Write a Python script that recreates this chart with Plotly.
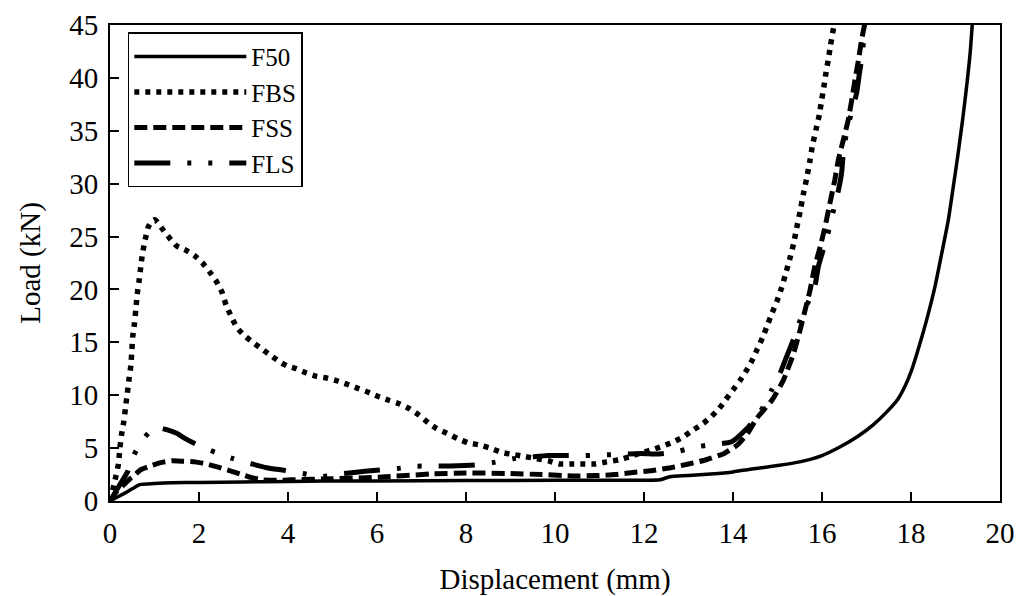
import plotly.graph_objects as go

# ---- data ----
f50_x = [0, 0.2, 0.4, 0.67, 1.0, 1.4, 2.0, 3.0, 4.0, 4.8, 6.0, 8.0, 10.0, 12.0, 12.36, 12.58, 13.0,
         13.5, 14.0, 14.38, 15.0, 15.5, 16.0, 16.4, 16.8, 17.15, 17.45, 17.7, 17.87, 18.0, 18.13, 18.25,
         18.35, 18.54, 18.69, 18.84, 18.95, 19.06, 19.16, 19.25, 19.33, 19.4]
f50_y = [0, 0.45, 0.9, 1.55, 1.65, 1.72, 1.75, 1.8, 1.85, 1.88, 1.9, 1.93, 1.95, 1.96, 2.0, 2.3, 2.4,
         2.55, 2.75, 3.0, 3.35, 3.7, 4.3, 5.1, 6.1, 7.2, 8.4, 9.6, 10.9, 12.2, 13.9, 15.6,
         17.1, 20.3, 23.4, 26.6, 29.7, 32.9, 36.05, 39.2, 42.4, 46.5]

fbs_x = [0, 0.07, 0.13, 0.19, 0.22, 0.26, 0.31, 0.35, 0.39, 0.43, 0.47, 0.49, 0.51, 0.55, 0.58, 0.61,
         0.65, 0.69, 0.73, 0.79, 0.86, 0.93, 1.01, 1.18, 1.33, 1.50, 1.71, 1.90, 2.08, 2.25, 2.40, 2.52,
         2.61, 2.73, 2.85, 3.03, 3.21, 3.40, 3.60, 3.80, 3.99, 4.19, 4.42, 4.63, 4.84, 5.07, 5.32, 5.54,
         5.79, 6.01, 6.28, 6.50, 6.74, 6.95, 7.15, 7.34, 7.57, 7.81, 8.05, 8.30, 8.54, 8.80, 9.05, 9.33,
         9.59, 9.85, 10.1, 10.4, 10.63, 10.9, 11.16, 11.45, 11.69, 11.93, 12.19, 12.43, 12.67, 12.9,
         13.1, 13.32, 13.52, 13.69, 13.84, 14.0, 14.16, 14.31, 14.43, 14.55, 14.67, 14.78, 14.88, 14.98,
         15.08, 15.17, 15.27, 15.36, 15.43, 15.51, 15.58, 15.66, 15.73, 15.79, 15.87, 15.94, 15.99,
         16.04, 16.09, 16.14, 16.19, 16.25, 16.32]
fbs_y = [0, 1.2, 2.3, 3.5, 4.9, 6.3, 7.5, 8.9, 10.2, 11.6, 12.85, 14.2, 15.5, 16.8, 18.1, 19.5,
         20.7, 22.1, 23.4, 24.7, 25.9, 26.4, 26.6, 25.7, 24.9, 24.1, 23.7, 23.2, 22.5, 21.6, 20.7, 19.7,
         18.5, 17.4, 16.4, 15.6, 15.0, 14.4, 13.8, 13.2, 12.75, 12.5, 12.1, 11.8, 11.65, 11.4, 11.05, 10.7,
         10.3, 9.9, 9.5, 9.2, 8.7, 8.1, 7.4, 6.85, 6.4, 5.9, 5.5, 5.3, 5.0, 4.6, 4.4, 4.2,
         4.0, 3.8, 3.5, 3.5, 3.5, 3.5, 3.7, 3.9, 4.2, 4.55, 4.85, 5.2, 5.6, 6.1,
         6.7, 7.3, 8.0, 8.75, 9.6, 10.5, 11.4, 12.4, 13.3, 14.4, 15.5, 16.7, 17.8, 18.8,
         20.0, 21.3, 22.8, 24.3, 25.8, 27.4, 29.0, 30.6, 32.2, 33.7, 35.2, 36.5, 37.85,
         39.1, 40.5, 41.7, 43.05, 44.5, 46.0]

fss_x = [0, 0.15, 0.34, 0.45, 0.52, 0.67, 0.90, 1.12, 1.39, 1.65, 1.91, 2.17, 2.43, 2.70, 2.96, 3.18,
         3.44, 3.74, 4.08, 5.0, 6.1, 7.2, 8.0, 9.0, 9.7, 10.4, 10.9, 11.35, 11.75, 12.15, 12.6, 13.0,
         13.4, 13.8, 14.1, 14.33, 14.53, 14.87, 15.13, 15.36, 15.51, 15.62, 15.73, 15.84, 15.96, 16.07,
         16.18, 16.29, 16.37, 16.48, 16.59, 16.67, 16.74, 16.82, 16.89, 16.97]
fss_y = [0, 0.9, 1.65, 2.1, 2.3, 2.9, 3.3, 3.6, 3.8, 3.75, 3.7, 3.5, 3.2, 2.85, 2.5, 2.2,
         2.0, 1.95, 2.0, 2.1, 2.27, 2.55, 2.65, 2.6, 2.5, 2.37, 2.4, 2.5, 2.7, 2.85, 3.15, 3.5,
         3.9, 4.5, 5.3, 6.4, 7.8, 9.5, 11.4, 13.95, 16.2, 18.05, 19.9, 22.2, 24.05, 25.95,
         28.2, 30.4, 32.3, 34.15, 36.05, 37.95, 39.8, 41.7, 43.6, 45.3]

fls_x = [0, 0.2, 0.4, 0.52, 0.73, 1.01, 1.27, 1.50, 1.69, 2.02, 2.40, 2.77, 3.15, 3.52, 3.91, 4.34,
         4.7, 5.17, 5.58, 5.99, 6.46, 6.89, 7.26, 7.64, 8.2, 8.63, 9.06, 9.45, 9.85, 10.26, 10.67, 11.09,
         11.5, 11.95, 12.34, 12.77, 13.15, 13.55, 13.97, 14.3, 14.5, 14.68, 14.87, 15.06, 15.2, 15.37,
         15.51, 15.68, 15.84, 15.92, 16.04, 16.1, 16.23, 16.37, 16.44, 16.48, 16.55, 16.66, 16.78,
         16.84, 16.91, 16.96]
fls_y = [0, 1.4, 2.8, 4.2, 5.8, 6.95, 6.75, 6.4, 5.9, 5.2, 4.55, 4.0, 3.55, 3.15, 2.9, 2.6,
         2.3, 2.55, 2.75, 2.9, 3.07, 3.29, 3.3, 3.3, 3.4, 3.65, 4.0, 4.15, 4.3, 4.3, 4.3, 4.35,
         4.42, 4.5, 4.45, 4.7, 5.1, 5.35, 5.6, 6.8, 7.8, 8.9, 10.5, 12.1, 13.6, 15.4,
         17.1, 18.7, 20.3, 22.2, 23.9, 24.7, 27.0, 29.4, 31.0, 32.9, 34.8, 36.7, 38.6,
         40.4, 42.3, 45.5]

x_ticks = list(range(0, 21, 2))
y_ticks = list(range(0, 46, 5))

FONT = "Liberation Serif, Times New Roman, serif"
FS = 29

fig = go.Figure()
fig.add_trace(go.Scatter(x=f50_x, y=f50_y, mode="lines", name="F50",
                         line=dict(color="black", width=3.5, dash="solid",
                                   shape="spline", smoothing=0.6)))
fig.add_trace(go.Scatter(x=fbs_x, y=fbs_y, mode="lines", name="FBS",
                         line=dict(color="black", width=5.5, dash="5px,6px",
                                   shape="spline", smoothing=0.5)))
fig.add_trace(go.Scatter(x=fss_x, y=fss_y, mode="lines", name="FSS",
                         line=dict(color="black", width=5, dash="13px,6px",
                                   shape="spline", smoothing=0.5)))
fig.add_trace(go.Scatter(x=fls_x, y=fls_y, mode="lines", name="FLS",
                         line=dict(color="black", width=5,
                                   dash="36px,17px,4px,17px,4px,17px",
                                   shape="spline", smoothing=0.5)))

axis_common = dict(
    showgrid=False, zeroline=False, showline=True, linecolor="black", linewidth=2,
    mirror=True, ticks="inside", ticklen=9, tickwidth=1.5, tickcolor="black",
    tickfont=dict(family=FONT, size=FS, color="black"), automargin=False,
)
fig.update_xaxes(range=[0, 20], tickvals=x_ticks, ticktext=[str(v) for v in x_ticks],
                 ticklabelstandoff=5,
                 title=dict(text="Displacement (mm)", font=dict(family=FONT, size=FS, color="black"),
                            standoff=22),
                 **axis_common)
fig.update_yaxes(range=[0, 45], tickvals=y_ticks, ticktext=[str(v) for v in y_ticks],
                 ticklabelstandoff=4,
                 title=dict(text="Load (kN)", font=dict(family=FONT, size=FS, color="black"),
                            standoff=20),
                 **axis_common)

fig.update_layout(
    width=1030, height=596,
    margin=dict(l=110, r=30, t=25, b=95, autoexpand=False),
    paper_bgcolor="white", plot_bgcolor="white",
    font=dict(family=FONT, size=FS, color="black"),
    showlegend=True,
    legend=dict(x=0.02, y=0.985, xanchor="left", yanchor="top",
                bordercolor="black", borderwidth=1.5, bgcolor="white",
                font=dict(family=FONT, size=25, color="black"),
                itemwidth=112, tracegroupgap=0),
)

fig.write_html("out.html")
